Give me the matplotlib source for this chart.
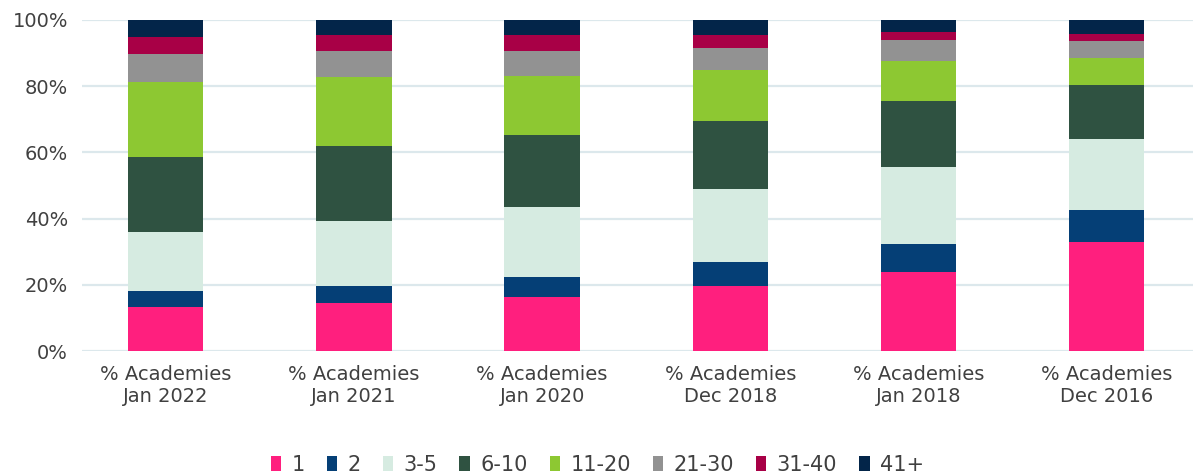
import numpy as np
import matplotlib
matplotlib.use("Agg")
import matplotlib.pyplot as plt

plt.rcParams['font.family'] = ['DejaVu Sans']

periods = ["% Academies\nJan 2022", "% Academies\nJan 2021", "% Academies\nJan 2020",
           "% Academies\nDec 2018", "% Academies\nJan 2018", "% Academies\nDec 2016"]
groups = ["1", "2", "3-5", "6-10", "11-20", "21-30", "31-40", "41+"]

# share of academies by trust size, one list per size band
s1 = [13.4, 14.5, 16.4, 19.5, 23.8, 33.0]
s2 = [4.7, 5.2, 6.0, 7.3, 8.6, 9.5]
s3_5 = [18.0, 19.6, 21.0, 22.2, 23.1, 21.4]
s6_10 = [22.5, 22.6, 21.9, 20.5, 19.9, 16.6]
s11_20 = [22.7, 20.8, 17.9, 15.5, 12.3, 8.1]
s21_30 = [8.4, 8.0, 7.5, 6.6, 6.2, 5.1]
s31_40 = [5.1, 4.9, 4.9, 4.0, 2.5, 2.2]
s41 = [5.2, 4.4, 4.4, 4.4, 3.6, 4.1]

colors = ["#ff1f7e", "#053f76", "#d6ebe1", "#2f5241", "#8dc832", "#929292", "#a80046", "#032549"]
txt = "#404040"

fig = plt.figure(figsize=(11.95, 4.75), dpi=100)
ax = fig.add_axes([0.0686, 0.261, 0.93, 0.697])

series = [s1, s2, s3_5, s6_10, s11_20, s21_30, s31_40, s41]
x = np.arange(len(periods))
bottom = np.zeros(len(periods))
for vals, lab, c in zip(series, groups, colors):
    ax.bar(x, vals, 0.40, bottom=bottom, color=c, label=lab, zorder=3)
    bottom += np.array(vals)

ax.set_ylim(0, 100)
ax.set_xlim(-0.445, 5.46)
ax.set_yticks(range(0, 101, 20))
ax.set_yticklabels([f"{v}%" for v in range(0, 101, 20)])
ax.set_xticks(x)
ax.set_xticklabels(periods, linespacing=1.2, fontsize=15)
ax.grid(axis='y', color="#dce8ec", linewidth=1.6, zorder=0)
for sp in ax.spines.values():
    sp.set_visible(False)
ax.tick_params(length=0, labelsize=14, colors=txt)
ax.tick_params(axis='y', pad=10)
ax.tick_params(axis='x', pad=10)

fig.legend(loc='center', bbox_to_anchor=(0.5, 0.022), ncol=8, frameon=False,
           fontsize=15, handlelength=0.5, handleheight=0.72, handletextpad=0.5,
           columnspacing=1.05, labelcolor=txt)

fig.savefig("out.png", dpi=100)
